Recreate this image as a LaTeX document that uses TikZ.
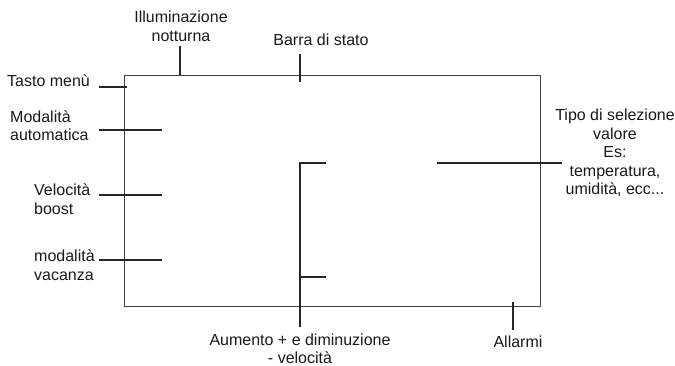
\documentclass[tikz,border=0pt]{standalone}
\usepackage{fontspec}
\setmainfont{Liberation Sans}
\begin{document}
\begin{tikzpicture}[x=1pt,y=-1pt,
  tick/.style={line width=2.4pt, draw=black!85},
  frame/.style={line width=1pt, draw=black!75},
  lbl/.style={font=\fontsize{16}{18.5}\selectfont, text=black!90, inner sep=0pt, align=center}]
\useasboundingbox (0,0) rectangle (675,366);
% screen frame
\node[frame, draw, anchor=north west, minimum width=416pt, minimum height=231pt, inner sep=0pt] (screen) at (124,75) {};
% labels
\node[lbl] (ill) at (181,26.5) {Illuminazione\\notturna};
\node[lbl] (barra) at (321,40) {Barra di stato};
\node[lbl, anchor=west] (tasto) at (7,80.5) {Tasto menù};
\node[lbl, align=left, anchor=west] (auto) at (10,125.5) {Modalità\\automatica};
\node[lbl, align=left, anchor=west] (boost) at (34,199) {Velocità\\boost};
\node[lbl, align=left, anchor=west] (vac) at (34,265) {modalità\\vacanza};
\node[lbl] (tipo) at (615,153) {Tipo di selezione\\valore\\Es:\\temperatura,\\umidità, ecc...};
\node[lbl] (aum) at (300,349) {Aumento + e diminuzione\\- velocità};
\node[lbl] (all) at (518,341.5) {Allarmi};
% tick coordinates
\coordinate (illA) at (180,46);  \coordinate (illB) at (180,75);
\coordinate (barA) at (300,54);  \coordinate (barB) at (300,82);
\coordinate (tasA) at (99,87);   \coordinate (tasB) at (127,87);
\coordinate (autA) at (99,130);  \coordinate (autB) at (162,130);
\coordinate (booA) at (99,195);  \coordinate (booB) at (162,195);
\coordinate (vacA) at (99,260);  \coordinate (vacB) at (162,260);
\coordinate (brT) at (326,163);  \coordinate (brTL) at (300,163);
\coordinate (brBot) at (300,327);
\coordinate (brM) at (300,277);  \coordinate (brMR) at (326,277);
\coordinate (tipA) at (437,163); \coordinate (tipB) at (562,163);
\coordinate (allA) at (513,302); \coordinate (allB) at (513,330);
% ticks
\draw[tick] (illA) -- (illB);
\draw[tick] (barA) -- (barB);
\draw[tick] (tasA) -- (tasB);
\draw[tick] (autA) -- (autB);
\draw[tick] (booA) -- (booB);
\draw[tick] (vacA) -- (vacB);
\draw[tick] (brT) -- (brTL) -- (brBot);
\draw[tick] (brM) -- (brMR);
\draw[tick] (tipA) -- (tipB);
\draw[tick] (allA) -- (allB);
\end{tikzpicture}
\end{document}
